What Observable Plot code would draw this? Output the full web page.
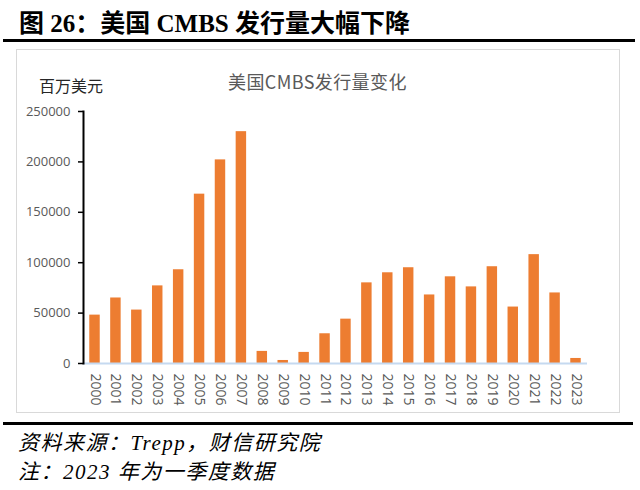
<!DOCTYPE html>
<html>
<head>
<meta charset="utf-8">
<script src="https://cdn.jsdelivr.net/npm/d3@7"></script>
<script src="https://cdn.jsdelivr.net/npm/@observablehq/plot@0.6"></script>
<style>
  html, body { margin: 0; padding: 0; background: #fff; }
  body { width: 640px; height: 490px; position: relative; overflow: hidden; }
  .abs { position: absolute; white-space: nowrap; }
  #title { left: 19px; top: 3px; font: bold 25px "Liberation Serif", "Noto Sans CJK SC", serif; color: #000; }
  #topline { left: 3px; top: 39px; width: 632px; height: 3px; background: #000; }
  #box { left: 16px; top: 49px; width: 604px; height: 364px; box-sizing: border-box; border: 1.5px solid #d9d9d9; }
  #chart { left: 16px; top: 49px; }
  #ctitle { left: 228px; top: 68px; font: 18px "Noto Sans CJK SC", sans-serif; color: #595959; letter-spacing: 0.4px; }
  #unit { left: 39px; top: 73px; font: 16px "Noto Sans CJK SC", sans-serif; color: #262626; }
  #botline { left: 3px; top: 422px; width: 630px; height: 3px; background: #000; }
  .foot { left: 18px; font: italic 21px "Liberation Serif", "Noto Sans CJK SC", serif; letter-spacing: 1.5px; color: #000; }
  #source { top: 426px; }
  #note { top: 455px; }
</style>
</head>
<body>
<div id="title" class="abs">图 26：美国 CMBS 发行量大幅下降</div>
<div id="topline" class="abs"></div>
<div id="box" class="abs"></div>
<div id="chart" class="abs"></div>
<div id="ctitle" class="abs">美国CMBS发行量变化</div>
<div id="unit" class="abs">百万美元</div>
<div id="botline" class="abs"></div>
<div id="source" class="abs foot">资料来源：Trepp，财信研究院</div>
<div id="note" class="abs foot">注：2023 年为一季度数据</div>
<script>
const years = ["2000","2001","2002","2003","2004","2005","2006","2007","2008","2009","2010","2011",
               "2012","2013","2014","2015","2016","2017","2018","2019","2020","2021","2022","2023"];
const issuance = [48000, 65000, 53000, 77000, 93000, 168000, 202000, 230000, 12000, 3000, 11000, 29500,
                  44000, 80000, 90000, 95000, 68000, 86000, 76000, 96000, 56000, 108000, 70000, 5000];
const yTicks = [0, 50000, 100000, 150000, 200000, 250000];

const data = years.map((year, i) => ({year, value: issuance[i]}));

const chart = Plot.plot({
  width: 604,
  height: 364,
  marginLeft: 67,
  marginRight: 33,
  marginTop: 62,
  marginBottom: 50,
  style: {fontFamily: "'Open Sans', sans-serif", fontSize: "13px", background: "transparent", color: "#595959"},
  x: {domain: years, paddingInner: 0.5, paddingOuter: 0.3, round: false, label: null},
  y: {domain: [0, 250000], label: null},
  marks: [
    Plot.barY(data, {x: "year", y: "value", fill: "#ed7d31"}),
    Plot.ruleY([0], {stroke: "#c5d9f0", strokeWidth: 2}),
    Plot.frame({anchor: "left", stroke: "#000", strokeWidth: 2}),
    Plot.axisY({ticks: yTicks, tickSize: 5, tickPadding: 8, tickFormat: d => String(d), stroke: "#000", strokeWidth: 1.5, fill: "#595959", label: null}),
    Plot.axisX({tickRotate: 90, tickSize: 0, tickPadding: 10, fill: "#595959", label: null, fontSize: 14})
  ]
});
document.getElementById("chart").appendChild(chart);
</script>
</body>
</html>
